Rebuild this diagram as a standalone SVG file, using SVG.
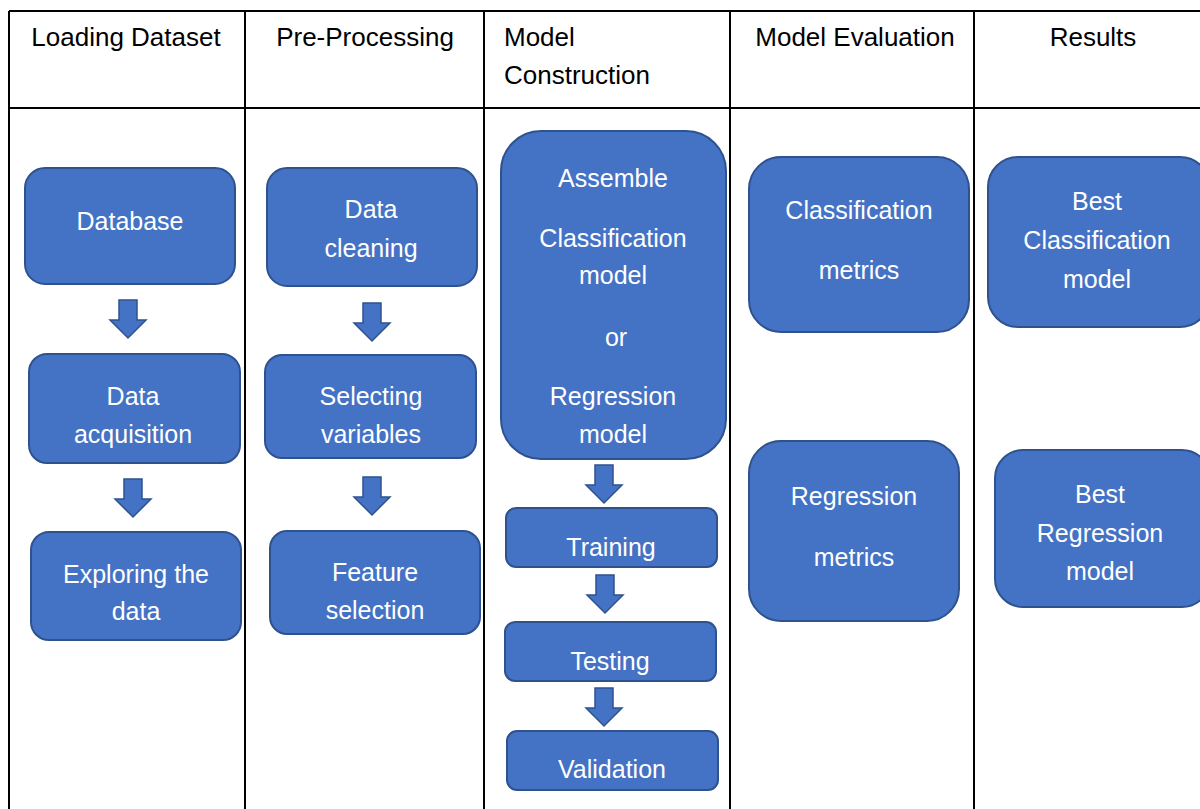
<svg xmlns="http://www.w3.org/2000/svg" width="1200" height="809" viewBox="0 0 1200 809">
  <style>
    .grid { stroke: #000; stroke-width: 2; fill: none; }
    .head { font-family: "Liberation Sans", Arial, sans-serif; font-size: 26px; fill: #000; }
    .box { fill: #4472C4; stroke: #2F528F; stroke-width: 2; }
    .lbl { font-family: "Liberation Sans", Arial, sans-serif; font-size: 25px; fill: #fff; text-anchor: middle; }
    .arrow { fill: #4472C4; stroke: #2F528F; stroke-width: 1.5; stroke-linejoin: miter; }
  </style>
  <defs>
    <!-- block down-arrow, origin at top centre -->
    <path id="down" d="M -9 0 H 9 V 20 H 18 L 0 38 L -18 20 H -9 Z"/>
  </defs>
  <rect width="1200" height="809" fill="#fff"/>

  <!-- table frame -->
  <g id="table">
    <path class="grid" d="M 9 11 H 1200 M 9 108 H 1200 M 9 11 V 809 M 245 11 V 809 M 484 11 V 809 M 730 11 V 809 M 974 11 V 809"/>
    <text class="head" x="126" y="46" text-anchor="middle">Loading Dataset</text>
    <text class="head" x="365" y="46" text-anchor="middle">Pre-Processing</text>
    <text class="head" x="504" y="46">Model</text>
    <text class="head" x="504" y="84">Construction</text>
    <text class="head" x="855" y="46" text-anchor="middle">Model Evaluation</text>
    <text class="head" x="1093" y="46" text-anchor="middle">Results</text>
  </g>

  <!-- Loading Dataset -->
  <g id="database">
    <rect class="box" x="25" y="168" width="210" height="116" rx="20"/>
    <text class="lbl" x="130" y="230">Database</text>
  </g>
  <g id="data-acquisition">
    <rect class="box" x="29" y="354" width="211" height="109" rx="18"/>
    <text class="lbl" x="133" y="405">Data</text>
    <text class="lbl" x="133" y="443">acquisition</text>
  </g>
  <g id="exploring">
    <rect class="box" x="31" y="532" width="210" height="108" rx="18"/>
    <text class="lbl" x="136" y="583">Exploring the</text>
    <text class="lbl" x="136" y="620">data</text>
  </g>

  <!-- Pre-Processing -->
  <g id="data-cleaning">
    <rect class="box" x="267" y="168" width="210" height="118" rx="20"/>
    <text class="lbl" x="371" y="218">Data</text>
    <text class="lbl" x="371" y="257">cleaning</text>
  </g>
  <g id="selecting-variables">
    <rect class="box" x="265" y="355" width="211" height="103" rx="17"/>
    <text class="lbl" x="371" y="405">Selecting</text>
    <text class="lbl" x="371" y="443">variables</text>
  </g>
  <g id="feature-selection">
    <rect class="box" x="270" y="531" width="210" height="103" rx="17"/>
    <text class="lbl" x="375" y="581">Feature</text>
    <text class="lbl" x="375" y="619">selection</text>
  </g>

  <!-- Model Construction -->
  <g id="assemble">
    <rect class="box" x="501" y="131" width="225" height="328" rx="40"/>
    <text class="lbl" x="613" y="187">Assemble</text>
    <text class="lbl" x="613" y="247">Classification</text>
    <text class="lbl" x="613" y="284">model</text>
    <text class="lbl" x="616" y="346">or</text>
    <text class="lbl" x="613" y="405">Regression</text>
    <text class="lbl" x="613" y="443">model</text>
  </g>
  <g id="training">
    <rect class="box" x="506" y="508" width="211" height="59" rx="10"/>
    <text class="lbl" x="611" y="556">Training</text>
  </g>
  <g id="testing">
    <rect class="box" x="505" y="622" width="211" height="59" rx="10"/>
    <text class="lbl" x="610" y="670">Testing</text>
  </g>
  <g id="validation">
    <rect class="box" x="507" y="731" width="211" height="59" rx="10"/>
    <text class="lbl" x="612" y="778">Validation</text>
  </g>

  <!-- Model Evaluation -->
  <g id="classification-metrics">
    <rect class="box" x="749" y="157" width="220" height="175" rx="32"/>
    <text class="lbl" x="859" y="219">Classification</text>
    <text class="lbl" x="859" y="279">metrics</text>
  </g>
  <g id="regression-metrics">
    <rect class="box" x="749" y="441" width="210" height="180" rx="32"/>
    <text class="lbl" x="854" y="505">Regression</text>
    <text class="lbl" x="854" y="566">metrics</text>
  </g>

  <!-- Results -->
  <g id="best-classification">
    <rect class="box" x="988" y="157" width="222" height="170" rx="30"/>
    <text class="lbl" x="1097" y="210">Best</text>
    <text class="lbl" x="1097" y="249">Classification</text>
    <text class="lbl" x="1097" y="288">model</text>
  </g>
  <g id="best-regression">
    <rect class="box" x="995" y="450" width="215" height="157" rx="28"/>
    <text class="lbl" x="1100" y="503">Best</text>
    <text class="lbl" x="1100" y="542">Regression</text>
    <text class="lbl" x="1100" y="580">model</text>
  </g>

  <!-- flow arrows -->
  <g id="connectors">
    <use href="#down" class="arrow" x="128" y="300"/>
    <use href="#down" class="arrow" x="133" y="479"/>
    <use href="#down" class="arrow" x="372" y="303"/>
    <use href="#down" class="arrow" x="372" y="477"/>
    <use href="#down" class="arrow" x="604" y="465"/>
    <use href="#down" class="arrow" x="605" y="575"/>
    <use href="#down" class="arrow" x="604" y="688"/>
  </g>
</svg>
